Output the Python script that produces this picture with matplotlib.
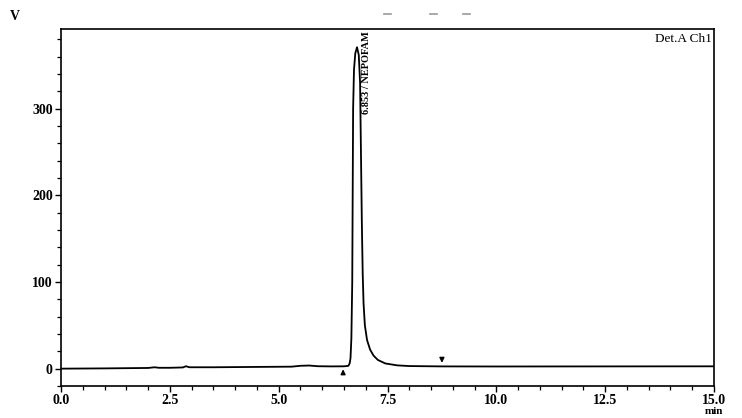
import numpy as np
import matplotlib.pyplot as plt
from matplotlib.lines import Line2D

plt.rcParams['font.family'] = ['Liberation Serif', 'DejaVu Serif']

# chromatogram trace (min, signal)
time = [0.0, 1.0, 2.0, 2.15, 2.25, 2.5, 2.8, 2.87, 2.95, 3.5, 4.5, 5.3, 5.5, 5.7, 5.9,
        6.2, 6.5, 6.6, 6.63, 6.65, 6.67, 6.69, 6.70, 6.71, 6.73, 6.76, 6.80, 6.84,
        6.87, 6.89, 6.91, 6.93, 6.95, 6.98, 7.03, 7.10, 7.18, 7.28, 7.45, 7.72,
        8.0, 8.75, 10.0, 12.5, 15.0]
signal = [0.0, 0.3, 0.8, 1.6, 1.0, 1.0, 1.4, 2.8, 1.6, 1.6, 2.0, 2.3, 3.3, 3.6, 2.8,
          2.6, 2.7, 3.2, 6, 12, 35, 100, 200, 300, 345, 364, 371, 362,
          330, 250, 170, 110, 75, 50, 33, 22, 15, 10, 6, 3.8,
          3.0, 2.6, 2.5, 2.6, 2.7]

peak_rt = 6.853
peak_name = "NEPOFAM"
start_mark = 6.48
end_mark = 8.75
x_ticks = [0.0, 2.5, 5.0, 7.5, 10.0, 12.5, 15.0]
y_ticks = [0, 100, 200, 300]

fig = plt.figure(figsize=(7.42, 4.18), dpi=100, facecolor='white')
ax = fig.add_axes([0.0822, 0.0766, 0.8801, 0.854])

ax.plot(time, signal, color='black', lw=1.3)
ax.set_xlim(0, 15)
ax.set_ylim(-20, 392)

ax.set_xticks(x_ticks)
ax.set_xticklabels([f"{v:.1f}" for v in x_ticks])
ax.set_xticks(np.arange(0, 15.01, 0.5), minor=True)
ax.set_yticks(y_ticks)
ax.set_yticks(np.arange(-20, 381, 20), minor=True)

ax.tick_params(which='major', length=4, width=1, direction='out', labelsize=10, pad=2)
ax.tick_params(which='minor', length=3, width=0.9, direction='out')
for lbl in ax.get_xticklabels() + ax.get_yticklabels():
    lbl.set_fontweight('bold')
for s in ax.spines.values():
    s.set_linewidth(1.2)

# peak label
ax.text(peak_rt + 0.16, 389, f"{peak_rt:.3f} / {peak_name}", rotation=90,
        ha='center', va='top', fontsize=7.5, fontweight='bold')

# integration marks
ax.annotate('', xy=(start_mark, 2.5), xytext=(start_mark, -8),
            arrowprops=dict(arrowstyle='-|>', lw=1.0, color='black', mutation_scale=7))
ax.annotate('', xy=(end_mark, 3.5), xytext=(end_mark, 15),
            arrowprops=dict(arrowstyle='-|>', lw=1.0, color='black', mutation_scale=7))

ax.text(0.997, 0.99, "Det.A Ch1", transform=ax.transAxes, ha='right', va='top', fontsize=9.5)
fig.text(15 / 742, 1 - 17 / 418, "V", ha='center', va='center', fontsize=10, fontweight='bold')
fig.text(714 / 742, 1 - 411 / 418, "min", ha='center', va='center', fontsize=8, fontweight='bold')

# scan artifacts on top
for x0 in [384, 430, 463]:
    fig.add_artist(Line2D([x0 / 742, (x0 + 7) / 742], [1 - 14 / 418] * 2,
                          color='#999999', lw=1.2, transform=fig.transFigure))

fig.savefig('out.png', dpi=100, facecolor='white')
